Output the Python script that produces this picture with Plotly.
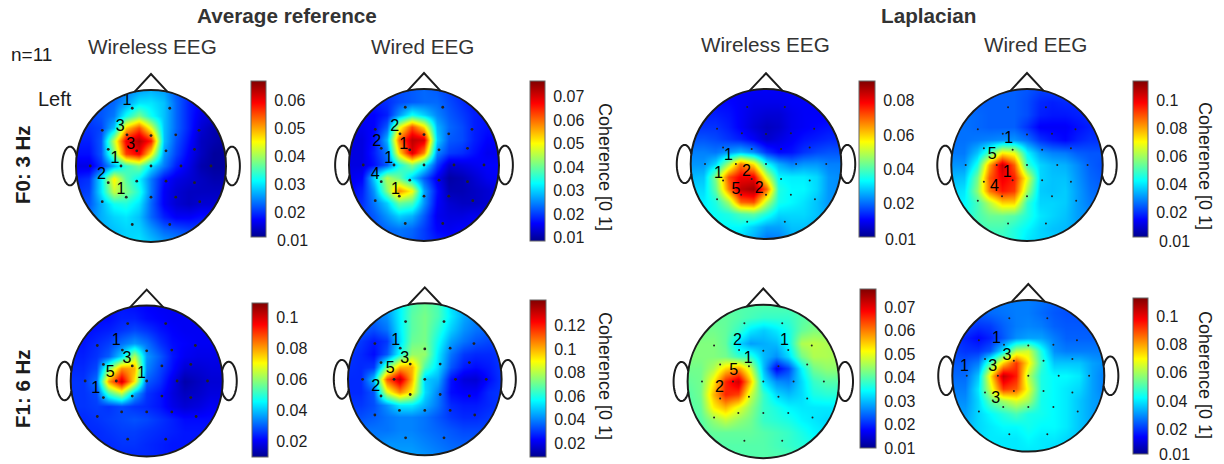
import numpy as np
import plotly.graph_objects as go

W, H = 1224, 464

# Coherence values in thousandths.
# Rows run from the front of the head to the back, columns from left to right.
AVG_F0_WIRELESS = [
 [22,22,22,22,24,26,27,26,22,20,18,18,18],
 [22,22,22,23,26,30,30,28,23,19,17,16,16],
 [21,21,22,24,32,38,32,28,23,19,16,15,14],
 [20,20,21,28,48,55,44,28,23,19,15,13,13],
 [19,19,22,42,60,64,58,28,22,18,14,13,12],
 [18,18,22,38,56,60,46,26,21,17,14,12,12],
 [16,16,20,27,34,38,30,24,19,16,13,12,12],
 [19,20,30,46,36,31,24,18,16,15,14,13,13],
 [20,21,30,42,38,33,24,17,15,14,14,14,14],
 [22,22,27,32,33,30,23,17,15,14,15,15,15],
 [24,24,27,29,30,28,23,19,17,17,18,18,18],
 [26,26,27,28,29,29,26,23,22,21,21,21,21],
 [26,26,27,28,29,30,28,26,25,24,23,23,23],
]
AVG_F0_WIRED = [
 [20,20,20,20,21,22,23,22,20,18,17,17,17],
 [17,17,18,19,21,22,23,23,21,19,17,17,17],
 [16,16,16,18,26,34,30,25,22,20,18,17,17],
 [15,15,16,22,48,62,52,28,23,21,18,17,17],
 [14,14,17,28,60,72,70,30,22,21,18,16,16],
 [14,14,18,24,52,70,58,25,20,19,17,15,15],
 [14,14,17,22,34,42,33,20,13,14,15,16,16],
 [15,16,30,45,40,30,22,15,10,11,13,15,16],
 [16,18,26,42,58,50,27,17,11,11,12,13,14],
 [17,19,24,30,40,38,26,16,13,12,12,13,14],
 [19,20,22,26,30,28,22,15,14,14,15,15,15],
 [20,20,21,23,24,23,20,16,15,16,16,16,16],
 [20,20,21,22,23,22,20,18,17,17,17,17,17],
]
LAP_F0_WIRELESS = [
 [10,10,10,10,10,10,10,10,10,10,10,10,10],
 [11,11,11,11,10,9,9,9,10,10,10,10,10],
 [13,13,13,12,10,8,7,7,9,10,10,10,10],
 [15,15,15,13,10,7,5,6,9,10,11,12,12],
 [18,18,17,15,13,10,6,8,10,12,13,14,14],
 [22,22,21,24,27,23,15,11,12,15,17,18,18],
 [24,24,30,48,68,58,34,26,22,24,24,22,22],
 [27,28,45,72,80,80,52,33,32,32,30,24,23],
 [30,30,42,68,85,88,70,36,33,33,30,24,23],
 [32,32,36,48,70,72,50,35,33,31,28,24,23],
 [33,33,34,36,40,42,36,30,30,30,28,25,24],
 [34,34,34,33,33,29,25,25,28,28,27,26,25],
 [34,34,33,32,30,26,21,22,26,27,26,26,26],
]
LAP_F0_WIRED = [
 [25,25,25,25,25,25,24,22,22,22,22,22,22],
 [25,25,25,25,25,25,23,19,18,19,19,19,19],
 [27,27,26,25,25,25,23,18,17,17,18,19,19],
 [27,27,26,25,25,25,20,14,14,14,16,18,18],
 [27,27,28,29,30,31,27,20,17,15,18,20,20],
 [28,28,36,50,72,68,42,32,29,28,25,24,24],
 [31,31,45,80,105,88,48,38,35,34,30,25,23],
 [35,36,55,88,100,95,68,38,36,36,31,26,24],
 [38,40,58,85,96,92,60,37,36,37,32,27,25],
 [40,42,50,62,75,75,48,38,38,37,32,28,26],
 [42,44,50,54,54,52,46,40,38,36,32,30,28],
 [44,46,50,50,50,46,42,38,36,35,33,31,30],
 [44,46,50,50,48,46,40,38,38,36,34,32,32],
]
AVG_F1_WIRELESS = [
 [21,21,21,22,23,22,21,20,20,20,20,20,20],
 [21,21,22,22,24,24,22,21,20,20,20,20,20],
 [22,22,23,24,26,28,26,23,21,20,20,20,20],
 [23,23,25,27,32,36,32,26,22,21,20,20,20],
 [24,24,26,30,42,64,36,30,23,20,19,19,19],
 [25,25,28,56,82,78,34,28,22,17,17,18,18],
 [26,26,32,80,100,72,30,26,19,13,15,17,17],
 [26,26,28,52,64,38,26,23,18,15,16,18,18],
 [26,26,27,26,28,26,25,23,19,17,18,20,20],
 [25,25,26,27,28,29,28,26,24,22,22,22,22],
 [25,25,25,26,27,27,26,25,24,23,23,23,23],
 [24,24,25,25,26,26,25,24,23,23,23,23,23],
 [24,24,24,25,25,25,25,24,23,23,23,23,23],
]
AVG_F1_WIRED = [
 [40,40,40,45,55,66,70,66,52,44,40,38,38],
 [38,38,38,42,55,68,72,66,54,45,40,38,38],
 [35,35,33,38,54,68,72,62,50,42,38,36,36],
 [32,30,26,30,52,70,72,58,44,38,34,32,32],
 [30,28,24,34,58,76,76,54,38,30,28,28,30],
 [29,28,30,70,100,100,66,52,34,26,24,26,30],
 [28,28,48,112,132,100,50,46,25,18,17,24,30],
 [28,28,34,85,105,90,52,40,24,22,22,28,30],
 [30,30,33,42,54,54,46,38,28,26,26,28,30],
 [33,33,35,38,40,40,38,34,30,28,28,30,30],
 [38,38,38,38,40,40,38,36,34,32,32,32,32],
 [40,40,40,42,42,42,40,38,36,35,35,35,35],
 [42,42,42,44,44,44,42,40,38,38,38,38,38],
]
LAP_F1_WIRELESS = [
 [40,40,40,40,40,40,40,40,40,40,40,40,40],
 [41,41,41,41,40,39,38,38,38,40,41,41,41],
 [42,42,42,41,38,33,31,33,36,41,43,43,43],
 [43,43,43,41,32,28,29,30,35,46,47,46,45],
 [43,43,43,42,38,37,30,27,32,42,46,46,45],
 [42,42,46,54,58,48,30,17,22,34,42,44,44],
 [41,42,52,66,72,55,33,27,26,32,38,40,40],
 [40,42,56,66,64,48,38,32,30,32,36,37,37],
 [40,41,52,56,50,44,38,36,34,33,33,33,33],
 [40,40,44,47,44,42,38,37,36,34,33,32,32],
 [40,40,41,41,41,41,40,39,38,36,34,33,33],
 [40,40,40,40,40,40,40,39,38,37,36,35,35],
 [40,40,40,40,40,40,40,40,40,39,38,37,37],
]
LAP_F1_WIRED = [
 [28,28,28,28,28,28,28,27,25,24,24,24,24],
 [25,25,25,26,27,28,28,26,24,23,23,24,24],
 [22,22,20,21,25,28,29,28,25,24,24,24,24],
 [20,18,15,18,24,30,32,32,28,25,25,25,25],
 [22,20,20,24,40,62,65,45,30,28,28,28,28],
 [24,24,28,50,75,92,72,48,36,36,36,32,30],
 [26,26,36,72,105,95,62,45,42,42,40,32,28],
 [28,28,40,65,92,88,68,45,42,40,38,32,28],
 [30,30,38,52,60,66,60,44,42,40,36,32,30],
 [32,32,38,42,46,50,45,44,42,40,36,32,30],
 [34,34,38,40,42,42,44,42,42,40,36,33,32],
 [36,36,38,40,40,40,42,40,40,38,36,34,33],
 [38,38,38,40,40,40,40,40,38,38,36,34,34],
]

# Electrode sites, in head radii.
SENSOR_X = [-.25,.25,-.65,-.32,0,.33,.64,-.57,-.19,.20,.58,-.81,-.40,0,.40,.80,-.57,-.19,.20,.58,-.65,-.33,0,.33,.65,-.25,.25]
SENSOR_Y = [.76,.76,.47,.41,.40,.41,.47,.22,.20,.20,.22,0,0,0,0,0,-.22,-.20,-.20,-.22,-.47,-.41,-.41,-.41,-.47,-.77,-.77]

# Counts printed beside the electrodes.
COUNTS = [
 (["1","3","3","1","2","1"], [-.32,-.41,-.27,-.48,-.66,-.40], [.85,.51,.27,.09,-.12,-.32]),
 (["2","2","1","1","4","1"], [-.39,-.63,-.27,-.47,-.65,-.38], [.50,.30,.26,.08,-.13,-.33]),
 (["1","1","2","5","2"], [-.50,-.63,-.26,-.40,-.09], [.11,-.13,-.11,-.34,-.33]),
 (["1","5","1","4"], [-.24,-.46,-.26,-.43], [.34,.13,-.10,-.29]),
 (["1","3","5","1","1"], [-.40,-.26,-.48,-.07,-.67], [.53,.29,.10,.09,-.11]),
 (["1","3","5","2"], [-.38,-.26,-.45,-.64], [.51,.27,.13,-.10]),
 (["2","1","1","5","2"], [-.34,.28,-.20,-.39,-.58], [.53,.53,.29,.14,-.08]),
 (["1","3","3","1","3"], [-.42,-.28,-.47,-.84,-.43], [.49,.26,.12,.12,-.30]),
]

SERIES = [AVG_F0_WIRELESS, AVG_F0_WIRED, LAP_F0_WIRELESS, LAP_F0_WIRED,
          AVG_F1_WIRELESS, AVG_F1_WIRED, LAP_F1_WIRELESS, LAP_F1_WIRED]
RANGES = [(.0112,.0671),(.0085,.0767),(.0006,.0915),(.0024,.1139),
          (.0102,.1091),(.0080,.1420),(.00999,.0778),(.0022,.1133)]
TICKS = [
 [.02,.03,.04,.05,.06],
 [.01,.02,.03,.04,.05,.06,.07],
 [.02,.04,.06,.08],
 [.02,.04,.06,.08,.1],
 [.02,.04,.06,.08,.1],
 [.02,.04,.06,.08,.1,.12],
 [.01,.02,.03,.04,.05,.06,.07],
 [.02,.04,.06,.08,.1],
]
GRID = [-1,-5/6,-4/6,-3/6,-2/6,-1/6,0,1/6,2/6,3/6,4/6,5/6,1]

# Page geometry in pixels: head centre and radii, colour bar box.
HEADS = [
 dict(cx=151,cy=166,rx=75,ry=76,bar=(251,266,81,237)),
 dict(cx=424,cy=165,rx=75,ry=76,bar=(530,545,81,241)),
 dict(cx=766,cy=164,rx=75.3,ry=75,bar=(859,875,81,237)),
 dict(cx=1027,cy=165,rx=75.7,ry=76,bar=(1133,1148,81,237)),
 dict(cx=146.7,cy=381,rx=76,ry=75.5,bar=(252,268,303,457)),
 dict(cx=424.8,cy=379.3,rx=76.8,ry=76,bar=(530,546,300,457)),
 dict(cx=763.3,cy=381.5,rx=75.7,ry=76.8,bar=(860,876,289,448)),
 dict(cx=1028.3,cy=375.8,rx=76,ry=75.8,bar=(1133,1148,298,454)),
]
LOWEST_LABELS = [(275,240),(883,239),(1157,241),(1157,454.5)]
MARKER_SIZE = [2.8,2.8,2,2,2.8,2.8,2,2]

JET = [[0,"rgb(0,0,143)"],[.11,"rgb(0,0,255)"],[.36,"rgb(0,255,255)"],
       [.61,"rgb(255,255,0)"],[.86,"rgb(255,0,0)"],[1,"rgb(128,0,0)"]]
INK = "#1c1c1c"
SPAN = 1.3
FONT = "Liberation Sans, Arial, sans-serif"

def polyline(xs, ys, close=False):
    p = "M" + " L".join(f"{a:.4f},{b:.4f}" for a, b in zip(xs, ys))
    return p + (" Z" if close else "")

t = np.linspace(0, 2*np.pi, 181)
hole = polyline(np.cos(t), -np.sin(t), True)
edge = 1.12
mask_path = polyline([-edge,edge,edge,-edge],[-edge,-edge,edge,edge],True) + " " + hole
ear_t = np.radians(np.linspace(32, 328, 60))
ear_l = polyline(-1.08 + .105*np.cos(ear_t), .255*np.sin(ear_t))
ear_r = polyline(1.08 - .105*np.cos(ear_t), .255*np.sin(ear_t))
nose = polyline([-.22,0,.22],[.975,1.21,.975])

fig = go.Figure()
layout = dict(width=W, height=H, margin=dict(l=0,r=0,t=0,b=0), autosize=False,
              paper_bgcolor="white", plot_bgcolor="white", showlegend=False,
              font=dict(family=FONT, color=INK), hovermode=False)
shapes, annotations = [], []

for i, (z, head, (zmin, zmax), ticks, (labels, lx, ly)) in enumerate(zip(SERIES, HEADS, RANGES, TICKS, COUNTS)):
    n = i + 1
    xa, ya = f"x{n}", f"y{n}"
    cx, cy, rx, ry = head["cx"], head["cy"], head["rx"], head["ry"]
    low = min(SPAN, (H-cy)/ry)
    layout[f"xaxis{n}"] = dict(domain=[(cx-SPAN*rx)/W,(cx+SPAN*rx)/W], range=[-SPAN,SPAN],
                               visible=False, anchor=ya, fixedrange=True)
    layout[f"yaxis{n}"] = dict(domain=[1-(cy+low*ry)/H,1-(cy-SPAN*ry)/H], range=[-low,SPAN],
                               visible=False, anchor=xa, fixedrange=True)
    x0, x1, y0, y1 = head["bar"]
    fig.add_trace(go.Heatmap(
        x=GRID, y=GRID[::-1], z=np.array(z)/1000, xaxis=xa, yaxis=ya, zsmooth="best",
        zmin=zmin, zmax=zmax, colorscale=JET, hoverinfo="skip",
        colorbar=dict(x=x0/W, xanchor="left", y=1-y1/H, yanchor="bottom",
                      thicknessmode="pixels", thickness=x1-x0, lenmode="pixels", len=y1-y0,
                      xpad=0, ypad=0, outlinecolor="#666666", outlinewidth=1,
                      tickmode="array", tickvals=ticks, ticktext=[f"{v:g}" for v in ticks],
                      ticks="outside", ticklen=5, tickcolor="rgba(0,0,0,0)",
                      tickfont=dict(size=16, color=INK, family=FONT))))
    fig.add_trace(go.Scatter(x=SENSOR_X, y=SENSOR_Y, xaxis=xa, yaxis=ya, mode="markers",
                             marker=dict(size=MARKER_SIZE[i], color="#222222"), hoverinfo="skip"))
    fig.add_trace(go.Scatter(x=lx, y=ly, text=labels, xaxis=xa, yaxis=ya, mode="text",
                             textposition="middle center", hoverinfo="skip",
                             textfont=dict(size=16, color="black", family=FONT)))
    shapes.append(dict(type="path", path=mask_path, xref=xa, yref=ya, fillcolor="white",
                       line=dict(width=0), layer="above"))
    shapes.append(dict(type="circle", x0=-1, x1=1, y0=-1, y1=1, xref=xa, yref=ya,
                       line=dict(color=INK, width=2), layer="above"))
    for p in (ear_l, ear_r, nose):
        shapes.append(dict(type="path", path=p, xref=xa, yref=ya,
                           line=dict(color=INK, width=2), layer="above"))

def note(text, px, py, size, bold=False, angle=0, color=INK, anchor="center"):
    annotations.append(dict(text=f"<b>{text}</b>" if bold else text, x=px/W, y=1-py/H,
                            xref="paper", yref="paper", showarrow=False, xanchor=anchor,
                            yanchor="middle", textangle=angle,
                            font=dict(size=size, color=color, family=FONT)))

note("Average reference", 287, 16, 20.7, bold=True, color="#333333")
note("Laplacian", 928, 16, 20.7, bold=True, color="#333333")
for text, px, py in [("Wireless EEG",152,46),("Wired EEG",422,46),("Wireless EEG",765,45),("Wired EEG",1035,44)]:
    note(text, px, py, 20.7, color="#333333")
note("n=11", 31, 55, 19)
note("Left", 55, 99, 20)
note("F0: 3 Hz", 22, 165, 20.5, bold=True, angle=-90)
note("F1: 6 Hz", 22, 389, 20.5, bold=True, angle=-90)
for px, py in [(605,167),(605,376),(1205,166),(1205,375)]:
    note("Coherence [0 1]", px, py, 18, angle=90)
for px, py in LOWEST_LABELS:
    note("0.01", px, py, 16, anchor="left")

layout["shapes"] = shapes
layout["annotations"] = annotations
fig.update_layout(**layout)
fig.write_html("out.html", config=dict(displayModeBar=False),
               post_script="document.body.style.margin='0';document.body.style.overflow='hidden';")
